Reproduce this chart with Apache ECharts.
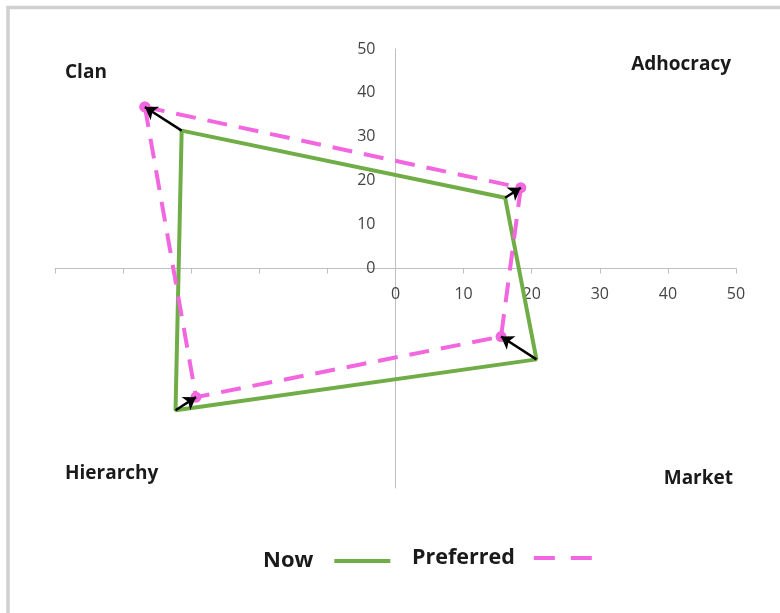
<!DOCTYPE html>
<html>
<head>
<meta charset="utf-8">
<script src="https://cdn.jsdelivr.net/npm/echarts@6/dist/echarts.min.js"></script>
<style>
  html, body { margin: 0; padding: 0; background: #ffffff; }
  #chart { width: 780px; height: 613px; }
</style>
</head>
<body>
<div id="chart"></div>
<script>
// Culture profile: one score per quadrant, each drawn along its own diagonal
const quadrants = ['Clan', 'Adhocracy', 'Market', 'Hierarchy'];
const nowScores = [31.4, 16.1, 20.7, 32.3];
const preferredScores = [36.8, 18.4, 15.5, 29.3];
const axisTickLabels = [0, 10, 20, 30, 40, 50];
const seriesNames = ['Now', 'Preferred'];

// direction of each quadrant on the x/y plane
const quadrantSigns = {
  Clan: [-1, 1],
  Adhocracy: [1, 1],
  Market: [1, -1],
  Hierarchy: [-1, -1]
};

function toPoint(name, score) {
  const s = quadrantSigns[name];
  return [s[0] * score, s[1] * score];
}

function closedPolygon(scores) {
  const pts = quadrants.map((q, i) => toPoint(q, scores[i]));
  pts.push(pts[0]);
  return pts;
}

const FONT = '"Open Sans", "Liberation Sans", sans-serif';
const GREEN = '#70ad47';
const PINK = '#f266e0';

// plot area, so the axes can be shifted to cross at the origin
const GRID = { left: 55, right: 44, top: 49, bottom: 125 };
const PLOT_W = 780 - GRID.left - GRID.right;
const PLOT_H = 613 - GRID.top - GRID.bottom;

const labelFormatter = v => (axisTickLabels.indexOf(v) >= 0 ? String(v) : '');

const chart = echarts.init(document.getElementById('chart'), null, { renderer: 'canvas' });

chart.setOption({
  animation: false,
  backgroundColor: '#ffffff',
  grid: Object.assign({ containLabel: false }, GRID),
  xAxis: {
    type: 'value',
    min: -50,
    max: 50,
    interval: 10,
    position: 'bottom',
    offset: -PLOT_H / 2,
    splitLine: { show: false },
    axisLine: { show: true, onZero: false, lineStyle: { color: '#bfbfbf', width: 1 } },
    axisTick: { show: true, length: 5, lineStyle: { color: '#bfbfbf', width: 1 } },
    axisLabel: { formatter: labelFormatter, margin: 18, fontFamily: FONT, fontSize: 16, color: '#444444' }
  },
  yAxis: {
    type: 'value',
    min: -50,
    max: 50,
    interval: 10,
    position: 'left',
    offset: -PLOT_W / 2,
    splitLine: { show: false },
    axisLine: { show: true, onZero: false, lineStyle: { color: '#bfbfbf', width: 1 } },
    axisTick: { show: false },
    axisLabel: { formatter: labelFormatter, margin: 20, fontFamily: FONT, fontSize: 16, color: '#444444' }
  },
  legend: [
    {
      data: [{ name: seriesNames[0], icon: 'path://M0,0H56V4H0Z' }],
      left: 263,
      top: 550,
      padding: 0,
      align: 'right',
      itemWidth: 56,
      itemHeight: 4,
      selectedMode: false,
      textStyle: { fontFamily: FONT, fontSize: 22, fontWeight: 'bold', color: '#1a1a1a', padding: [0, 16, 0, 0] }
    },
    {
      data: [{ name: seriesNames[1], icon: 'path://M0,0H21V4H0ZM37,0H58V4H37Z' }],
      left: 412,
      top: 547,
      padding: 0,
      align: 'right',
      itemWidth: 58,
      itemHeight: 4,
      selectedMode: false,
      textStyle: { fontFamily: FONT, fontSize: 21.5, fontWeight: 'bold', color: '#1a1a1a', padding: [0, 14, 0, 0] }
    }
  ],
  series: [
    {
      name: seriesNames[0],
      type: 'line',
      data: closedPolygon(nowScores),
      showSymbol: false,
      symbol: 'none',
      color: GREEN,
      lineStyle: { color: GREEN, width: 4 },
      z: 2,
      silent: true
    },
    {
      name: seriesNames[1],
      type: 'line',
      data: closedPolygon(preferredScores),
      symbol: 'circle',
      symbolSize: 11,
      color: PINK,
      itemStyle: { color: PINK, borderWidth: 0 },
      lineStyle: { color: PINK, width: 4, type: [20, 12] },
      z: 3,
      silent: true
    },
    {
      type: 'lines',
      coordinateSystem: 'cartesian2d',
      symbol: ['none', 'arrow'],
      symbolSize: 12,
      lineStyle: { color: '#000000', width: 2.5, opacity: 1, curveness: 0 },
      data: quadrants.map((q, i) => ({
        coords: [toPoint(q, nowScores[i]), toPoint(q, preferredScores[i])]
      })),
      z: 4,
      silent: true
    }
  ],
  graphic: [
    {
      type: 'rect',
      shape: { x: 8, y: 7.5, width: 900, height: 800 },
      style: { fill: 'none', stroke: '#d0d0d0', lineWidth: 3.5 },
      silent: true,
      z: 0
    },
    {
      type: 'text', left: 65, top: 63,
      style: { text: 'Clan', font: 'bold 19px ' + FONT, fill: '#1a1a1a' }
    },
    {
      type: 'text', right: 49, top: 55,
      style: { text: 'Adhocracy', font: 'bold 19px ' + FONT, fill: '#1a1a1a' }
    },
    {
      type: 'text', left: 65, top: 464,
      style: { text: 'Hierarchy', font: 'bold 19px ' + FONT, fill: '#1a1a1a' }
    },
    {
      type: 'text', right: 47, top: 469,
      style: { text: 'Market', font: 'bold 19px ' + FONT, fill: '#1a1a1a' }
    }
  ]
});
</script>
</body>
</html>
